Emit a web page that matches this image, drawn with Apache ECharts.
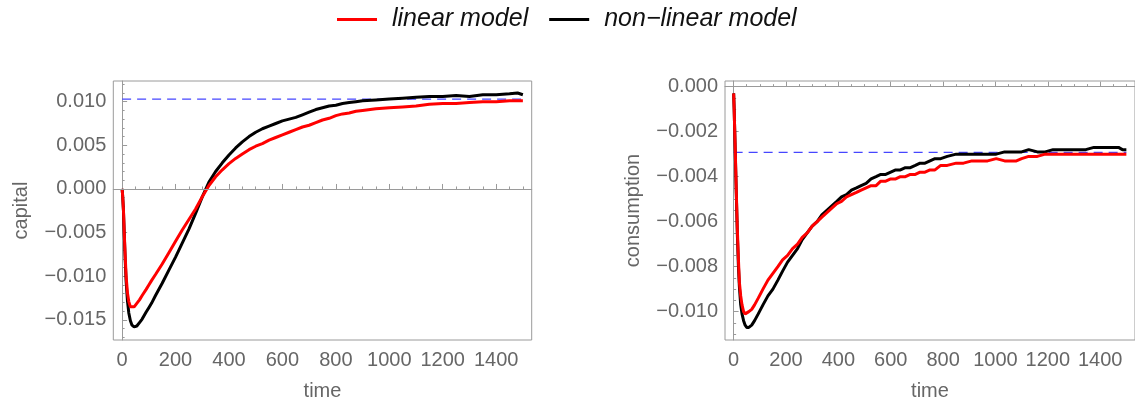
<!DOCTYPE html>
<html>
<head>
<meta charset="utf-8">
<script src="https://cdn.jsdelivr.net/npm/echarts@6/dist/echarts.min.js"></script>
<style>
html,body{margin:0;padding:0;background:#fff;}
#chart{width:1135px;height:407px;}
</style>
</head>
<body>
<div id="chart"></div>
<script>
// ---- data ----
const seriesNames = ['linear model', 'non\u2212linear model'];

const capitalTime = [0,2,5,8,11,15,20,25,31,37,45,55,65,75,90,100,110,125,150,175,200,225,250,275,300,325,350,375,400,425,450,475,500,525,550,575,600,625,650,675,700,725,750,775,800,825,850,875,900,950,1000,1050,1100,1150,1200,1250,1300,1350,1400,1450,1480,1500];
const capitalLinear = [0,-0.0008,-0.0024,-0.0050,-0.0073,-0.0100,-0.0119,-0.0129,-0.0135,-0.0137,-0.0135,-0.0131,-0.0127,-0.0122,-0.0115,-0.0110,-0.0105,-0.0098,-0.0086,-0.0073,-0.0060,-0.0047,-0.0035,-0.0023,-0.0009,0.0004,0.0014,0.0022,0.0029,0.0035,0.0040,0.0045,0.0049,0.0052,0.0056,0.0059,0.0062,0.0065,0.0068,0.0071,0.0073,0.0076,0.0079,0.0081,0.0084,0.0086,0.0087,0.0089,0.0090,0.0092,0.0093,0.0094,0.0095,0.0097,0.0098,0.0098,0.0099,0.0100,0.0100,0.0101,0.0101,0.0101];
const capitalNonlinear = [0,-0.0008,-0.0025,-0.0052,-0.0077,-0.0106,-0.0128,-0.0142,-0.0151,-0.0156,-0.0158,-0.0157,-0.0153,-0.0149,-0.0141,-0.0136,-0.0131,-0.0122,-0.0108,-0.0093,-0.0078,-0.0062,-0.0046,-0.0028,-0.0009,0.0008,0.0020,0.0030,0.0039,0.0047,0.0054,0.0060,0.0065,0.0069,0.0072,0.0075,0.0078,0.0080,0.0082,0.0085,0.0088,0.0091,0.0093,0.0095,0.0096,0.0098,0.0099,0.0100,0.0101,0.0102,0.0103,0.0104,0.0105,0.0106,0.0106,0.0107,0.0106,0.0108,0.0108,0.0109,0.0110,0.0108];
const capitalSteady = 0.0103;

const consumptionTime = [0,2,4,7,10,14,18,22,27,32,38,44,50,58,69,80,94,112,131,150,169,187,206,225,244,262,281,300,319,337,356,375,394,412,431,450,469,487,506,525,544,562,581,600,619,637,656,675,694,712,731,750,769,791,816,850,878,910,940,970,1003,1035,1065,1080,1100,1127,1160,1190,1220,1252,1283,1314,1345,1376,1410,1440,1470,1485,1500];
const consumptionLinear = [-0.0003,-0.0010,-0.0019,-0.0032,-0.0046,-0.0063,-0.0076,-0.0087,-0.0093,-0.0097,-0.0100,-0.0101,-0.0101,-0.0100,-0.0099,-0.0097,-0.0094,-0.0090,-0.0086,-0.0083,-0.0080,-0.0077,-0.0075,-0.0072,-0.0070,-0.0067,-0.0065,-0.0062,-0.0060,-0.0058,-0.0056,-0.0054,-0.0052,-0.0051,-0.0049,-0.0048,-0.0047,-0.0046,-0.0045,-0.0044,-0.0044,-0.0042,-0.0042,-0.0041,-0.0041,-0.0040,-0.0040,-0.0039,-0.0039,-0.0038,-0.0038,-0.0037,-0.0037,-0.0035,-0.0035,-0.0034,-0.0034,-0.0033,-0.0033,-0.0033,-0.0032,-0.0033,-0.0033,-0.0033,-0.0032,-0.0031,-0.0031,-0.0030,-0.0030,-0.0030,-0.0030,-0.0030,-0.0030,-0.0030,-0.0030,-0.0030,-0.0030,-0.0030,-0.0030];
const consumptionNonlinear = [-0.0003,-0.0010,-0.0019,-0.0033,-0.0047,-0.0065,-0.0079,-0.0089,-0.0097,-0.0101,-0.0104,-0.0106,-0.0107,-0.0107,-0.0106,-0.0104,-0.0101,-0.0097,-0.0093,-0.0090,-0.0086,-0.0082,-0.0078,-0.0075,-0.0072,-0.0068,-0.0065,-0.0062,-0.0060,-0.0057,-0.0055,-0.0053,-0.0051,-0.0049,-0.0048,-0.0046,-0.0045,-0.0044,-0.0043,-0.0041,-0.0040,-0.0039,-0.0039,-0.0038,-0.0037,-0.0037,-0.0036,-0.0036,-0.0035,-0.0034,-0.0034,-0.0033,-0.0032,-0.0032,-0.0031,-0.0030,-0.0030,-0.0030,-0.0030,-0.0030,-0.0030,-0.0029,-0.0029,-0.0029,-0.0029,-0.0028,-0.0029,-0.0029,-0.0028,-0.0028,-0.0028,-0.0028,-0.0028,-0.0027,-0.0027,-0.0027,-0.0027,-0.0028,-0.0028];
const consumptionSteady = -0.00292;

const timeTicks = [0,200,400,600,800,1000,1200,1400];
const timeMinorTicks = [50,100,150,250,300,350,450,500,550,650,700,750,850,900,950,1050,1100,1150,1250,1300,1350,1450,1500];
const capitalTicks = [-0.015,-0.010,-0.005,0,0.005,0.010];
const capitalMinorTicks = [-0.017,-0.016,-0.014,-0.013,-0.012,-0.011,-0.009,-0.008,-0.007,-0.006,-0.004,-0.003,-0.002,-0.001,0.001,0.002,0.003,0.004,0.006,0.007,0.008,0.009,0.011,0.012];
const consumptionTicks = [-0.010,-0.008,-0.006,-0.004,-0.002,0];
const consumptionMinorTicks = [-0.011,-0.0105,-0.0095,-0.009,-0.0085,-0.0075,-0.007,-0.0065,-0.0055,-0.005,-0.0045,-0.0035,-0.003,-0.0025,-0.0015,-0.001,-0.0005];
const steadySpan = [0, 1500];

// ---- chart ----
const zip = (t, v) => t.map((x, i) => [x, v[i]]);
const FONT = "'Liberation Sans', Arial, sans-serif";
const GRAY = '#666666';
const FRAME = '#9a9a9a';
const fmtY = v => (v < -1e-12 ? '\u2212' : '') + Math.abs(v).toFixed(3);
const fmtX = v => String(Math.round(v));

function xAxes(grid) {
  return [
    { type:'value', gridIndex:grid, min:-33, max:1533, position:'bottom',
      name:'time', nameLocation:'middle', nameGap:41,
      nameTextStyle:{color:GRAY, fontSize:20, fontFamily:FONT},
      axisLine:{show:true, lineStyle:{color:FRAME, width:1}},
      axisTick:{show:true, inside:true, length:5, customValues:timeTicks, lineStyle:{color:FRAME}},
      axisLabel:{show:true, customValues:timeTicks, margin:10, color:GRAY, fontSize:20, fontFamily:FONT, formatter:fmtX},
      splitLine:{show:false} },
    { type:'value', gridIndex:grid, min:-33, max:1533, position:'bottom',
      axisLine:{show:false},
      axisTick:{show:true, inside:true, length:2.5, customValues:timeMinorTicks, lineStyle:{color:FRAME}},
      axisLabel:{show:false}, splitLine:{show:false} }
  ];
}
function yAxes(grid, name, min, max, ticks, minor) {
  return [
    { type:'value', gridIndex:grid, min:min, max:max, position:'left',
      name:name, nameLocation:'middle', nameGap:82,
      nameTextStyle:{color:GRAY, fontSize:20, fontFamily:FONT},
      axisLine:{show:true, lineStyle:{color:FRAME, width:1}},
      axisTick:{show:true, inside:true, length:5, customValues:ticks, lineStyle:{color:FRAME}},
      axisLabel:{show:true, customValues:ticks, margin:7, color:GRAY, fontSize:20, fontFamily:FONT, formatter:fmtY},
      splitLine:{show:false} },
    { type:'value', gridIndex:grid, min:min, max:max, position:'left',
      axisLine:{show:false},
      axisTick:{show:true, inside:true, length:2.5, customValues:minor, lineStyle:{color:FRAME}},
      axisLabel:{show:false}, splitLine:{show:false} }
  ];
}

const lineCommon = { type:'line', showSymbol:false, symbol:'none', smooth:false, animation:false };
const BLUE = '#4646ff';

const option = {
  animation:false,
  backgroundColor:'#ffffff',
  legend:{
    top:2, left:332, icon:'rect', itemWidth:40, itemHeight:3, itemGap:21,
    data:seriesNames,
    textStyle:{fontSize:25, fontStyle:'italic', color:'#111', fontFamily:FONT, padding:[0,0,0,10]}
  },
  grid:[
    {left:113.3, top:81, width:418.4, height:259, show:true, borderColor:FRAME, borderWidth:1, backgroundColor:'transparent'},
    {left:725, top:81, width:418.4, height:259, show:true, borderColor:FRAME, borderWidth:1, backgroundColor:'transparent'}
  ],
  xAxis:[...xAxes(0), ...xAxes(1)],
  yAxis:[...yAxes(0,'capital',-0.0173,0.01237,capitalTicks,capitalMinorTicks),
         ...yAxes(1,'consumption',-0.01126,0.00025,consumptionTicks,consumptionMinorTicks)],
  series:[
    // zero axis line of the left panel
    { type:'line', xAxisIndex:0, yAxisIndex:0, data:[], z:1, silent:true,
      markLine:{ silent:true, symbol:'none', label:{show:false}, animation:false,
        lineStyle:{type:'solid', color:'#9a9a9a', width:1},
        data:[ {yAxis:0} ] } },
    // steady-state reference lines
    {...lineCommon, name:'steady capital', xAxisIndex:0, yAxisIndex:0, z:2, silent:true,
      data:steadySpan.map(t => [t, capitalSteady]),
      lineStyle:{type:[9,6], color:BLUE, width:1.2}},
    {...lineCommon, name:'steady consumption', xAxisIndex:2, yAxisIndex:2, z:2, silent:true,
      data:steadySpan.map(t => [t, consumptionSteady]),
      lineStyle:{type:[9,6], color:BLUE, width:1.2}},
    {...lineCommon, name:seriesNames[1], xAxisIndex:0, yAxisIndex:0, z:3,
      data:zip(capitalTime, capitalNonlinear), lineStyle:{color:'#000000', width:3}, itemStyle:{color:'#000000'}},
    {...lineCommon, name:seriesNames[0], xAxisIndex:0, yAxisIndex:0, z:4,
      data:zip(capitalTime, capitalLinear), lineStyle:{color:'#ff0000', width:3}, itemStyle:{color:'#ff0000'}},
    {...lineCommon, name:seriesNames[1], xAxisIndex:2, yAxisIndex:2, z:3,
      data:zip(consumptionTime, consumptionNonlinear), lineStyle:{color:'#000000', width:3}, itemStyle:{color:'#000000'}},
    {...lineCommon, name:seriesNames[0], xAxisIndex:2, yAxisIndex:2, z:4,
      data:zip(consumptionTime, consumptionLinear), lineStyle:{color:'#ff0000', width:3}, itemStyle:{color:'#ff0000'}}
  ]
};

const chart = echarts.init(document.getElementById('chart'), null, {renderer:'canvas'});
chart.setOption(option);
</script>
</body>
</html>
